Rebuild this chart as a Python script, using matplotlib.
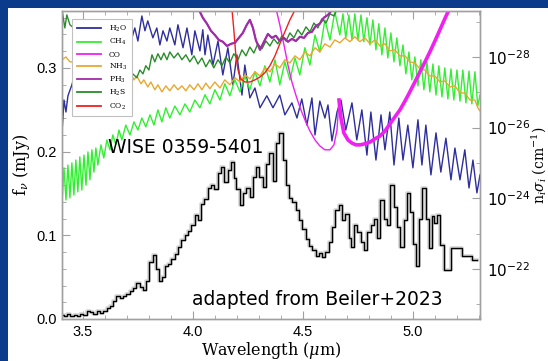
import numpy as np
import matplotlib
matplotlib.use('Agg')
from matplotlib import pyplot as plt
from matplotlib.patches import Rectangle
from matplotlib.lines import Line2D
from matplotlib.ticker import (FixedLocator, MultipleLocator, FormatStrFormatter,
                               LogFormatterMathtext, NullFormatter)

plt.rc('mathtext', fontset='dejavuserif')

# Observed spectrum of WISE 0359-5401 (mJy)
wise_wl = [3.405, 3.42, 3.435, 3.45, 3.465, 3.48, 3.495, 3.51, 3.525, 3.54, 3.555, 3.57, 3.585,
           3.60, 3.615, 3.63, 3.645, 3.66, 3.675, 3.69, 3.705, 3.72, 3.735, 3.75, 3.765, 3.78,
           3.795, 3.81, 3.825, 3.84, 3.85, 3.865, 3.88, 3.895, 3.91, 3.925, 3.94, 3.955, 3.97,
           3.985, 4.00, 4.015, 4.03, 4.045, 4.06, 4.075, 4.09, 4.105, 4.12, 4.135, 4.15, 4.165,
           4.18, 4.19, 4.205, 4.22, 4.235, 4.25, 4.265, 4.28, 4.295, 4.31, 4.325, 4.34, 4.355,
           4.37, 4.385, 4.40, 4.415, 4.43, 4.445, 4.46, 4.475, 4.49, 4.505, 4.52, 4.535, 4.55,
           4.565, 4.58, 4.595, 4.61, 4.625, 4.64, 4.655, 4.67, 4.685, 4.70, 4.715, 4.725, 4.74,
           4.755, 4.77, 4.785, 4.80, 4.815, 4.83, 4.845, 4.86, 4.875, 4.89, 4.905, 4.92, 4.935,
           4.95, 4.965, 4.98, 4.995, 5.01, 5.02, 5.035, 5.05, 5.065, 5.08, 5.09, 5.10, 5.115,
           5.13, 5.155, 5.195, 5.25, 5.29]
wise_flux = [0.005, 0.004, 0.006, 0.004, 0.005, 0.003, 0.006, 0.005, 0.009, 0.008, 0.006, 0.009,
             0.007, 0.010, 0.013, 0.015, 0.022, 0.027, 0.025, 0.028, 0.030, 0.033, 0.037, 0.043,
             0.038, 0.035, 0.045, 0.068, 0.077, 0.060, 0.045, 0.050, 0.063, 0.066, 0.072, 0.078,
             0.086, 0.094, 0.100, 0.105, 0.112, 0.124, 0.118, 0.138, 0.143, 0.157, 0.160, 0.155,
             0.175, 0.182, 0.164, 0.178, 0.188, 0.168, 0.155, 0.136, 0.150, 0.156, 0.146, 0.170,
             0.182, 0.170, 0.158, 0.185, 0.198, 0.165, 0.210, 0.222, 0.190, 0.160, 0.145, 0.140,
             0.130, 0.118, 0.108, 0.095, 0.087, 0.082, 0.075, 0.079, 0.074, 0.080, 0.092, 0.110,
             0.130, 0.136, 0.118, 0.126, 0.097, 0.086, 0.112, 0.104, 0.092, 0.082, 0.104, 0.112,
             0.120, 0.097, 0.142, 0.120, 0.112, 0.160, 0.134, 0.110, 0.086, 0.118, 0.150, 0.128,
             0.090, 0.063, 0.120, 0.157, 0.120, 0.085, 0.123, 0.115, 0.124, 0.088, 0.058, 0.085,
             0.075, 0.070]

# Cross sections, log10 of n_i sigma_i (cm^-1)
h2o_wl = [3.405, 3.414, 3.423, 3.432, 3.450, 3.486, 3.532, 3.577, 3.623, 3.668, 3.691, 3.705,
          3.723, 3.736, 3.750, 3.768, 3.782, 3.795, 3.818, 3.836, 3.850, 3.864, 3.882, 3.895,
          3.918, 3.932, 3.955, 3.973, 3.995, 4.009, 4.032, 4.045, 4.055, 4.068, 4.091, 4.114,
          4.136, 4.159, 4.182, 4.200, 4.223, 4.236, 4.259, 4.282, 4.305, 4.336, 4.364, 4.395,
          4.418, 4.45, 4.473, 4.495, 4.518, 4.541, 4.555, 4.577, 4.6, 4.614, 4.632, 4.655,
          4.673, 4.695, 4.723, 4.745, 4.768, 4.791, 4.809, 4.832, 4.855, 4.873, 4.895, 4.914,
          4.936, 4.955, 4.977, 5.0, 5.023, 5.041, 5.059, 5.082, 5.105, 5.127, 5.15, 5.173,
          5.191, 5.214, 5.236, 5.255, 5.273, 5.291, 5.305]
h2o_log = [-25.85, -26.78, -26.44, -26.90, -27.21, -28.06, -28.62, -28.91, -29.05, -28.99, -28.34,
           -28.91, -28.54, -28.82, -28.45, -29.16, -28.74, -29.02, -28.54, -28.82, -28.34, -28.74,
           -28.45, -28.82, -28.34, -28.91, -28.26, -28.82, -28.06, -28.74, -28.17, -28.77, -28.06,
           -28.62, -27.77, -28.45, -27.49, -28.26, -27.21, -28.06, -26.92, -27.77, -26.84, -27.12,
           -26.56, -26.90, -26.56, -26.92, -26.36, -26.70, -26.27, -26.81, -26.07, -26.84, -25.79,
           -26.75, -26.27, -26.64, -25.62, -26.44, -26.78, -25.93, -26.70, -25.65, -26.50, -25.22,
           -26.44, -25.08, -26.36, -25.37, -26.44, -24.94, -26.27, -25.08, -26.07, -24.86, -26.22,
           -24.94, -26.07, -24.66, -25.85, -24.74, -25.70, -24.52, -25.42, -24.52, -25.37, -24.29,
           -25.08, -24.15, -24.66]

ch4_wl = [3.405, 3.414, 3.423, 3.432, 3.441, 3.450, 3.459, 3.468, 3.477, 3.486, 3.495, 3.505,
          3.514, 3.523, 3.532, 3.541, 3.550, 3.559, 3.568, 3.582, 3.595, 3.609, 3.623, 3.636,
          3.650, 3.664, 3.677, 3.695, 3.714, 3.732, 3.750, 3.768, 3.786, 3.805, 3.823, 3.841,
          3.859, 3.877, 3.895, 3.918, 3.941, 3.964, 3.986, 4.009, 4.032, 4.055, 4.077, 4.100,
          4.123, 4.145, 4.168, 4.191, 4.214, 4.236, 4.259, 4.282, 4.305, 4.327, 4.350, 4.373,
          4.395, 4.418, 4.441, 4.464, 4.486, 4.509, 4.532, 4.555, 4.577, 4.600, 4.623, 4.645,
          4.668, 4.682, 4.695, 4.709, 4.723, 4.736, 4.750, 4.764, 4.777, 4.791, 4.805, 4.818,
          4.832, 4.845, 4.859, 4.873, 4.886, 4.900, 4.914, 4.927, 4.941, 4.955, 4.968, 4.982,
          4.995, 5.009, 5.023, 5.036, 5.050, 5.064, 5.077, 5.091, 5.105, 5.118, 5.132, 5.145,
          5.159, 5.173, 5.186, 5.200, 5.214, 5.227, 5.241, 5.255, 5.268, 5.282, 5.295, 5.305]
ch4_log = [-23.86, -24.86, -23.95, -24.94, -24.01, -25.00, -24.09, -25.08, -24.18, -25.17, -24.23,
           -25.22, -24.37, -25.31, -24.52, -25.37, -24.74, -25.42, -24.94, -25.51, -25.14, -25.65,
           -25.37, -25.79, -25.51, -25.93, -25.65, -26.07, -25.79, -26.16, -25.93, -26.27, -26.02,
           -26.36, -26.07, -26.50, -26.16, -26.56, -26.27, -26.61, -26.36, -26.67, -26.44, -26.78,
           -26.56, -26.93, -26.67, -27.07, -26.78, -27.24, -26.90, -27.35, -27.01, -27.46, -27.07,
           -27.58, -27.18, -27.75, -27.29, -27.92, -27.21, -27.86, -27.35, -27.97, -27.49, -28.26,
           -27.77, -28.62, -28.14, -29.05, -28.48, -29.28, -28.62, -29.22, -28.54, -29.19, -28.48,
           -29.22, -28.48, -29.19, -28.43, -29.11, -28.34, -29.05, -28.20, -28.94, -28.06, -28.82,
           -27.97, -28.68, -27.86, -28.54, -27.75, -28.34, -27.52, -28.14, -27.35, -28.00, -27.18,
           -27.92, -27.07, -27.86, -27.01, -27.80, -26.92, -27.75, -26.87, -27.69, -26.81, -27.66,
           -26.78, -27.63, -26.75, -27.63, -26.70, -27.60, -26.67, -27.58, -26.61, -26.92]

co_wl = [4.377, 4.395, 4.414, 4.432, 4.45, 4.468, 4.486, 4.509, 4.532, 4.555, 4.577, 4.6, 4.623,
         4.641, 4.655, 4.664, 4.673, 4.686, 4.705, 4.723, 4.741, 4.759, 4.782, 4.805, 4.827,
         4.85, 4.873, 4.895, 4.918, 4.941, 4.964, 4.986, 5.009, 5.032, 5.055, 5.077, 5.1, 5.123,
         5.145, 5.168]
co_log = [-29.39, -28.91, -28.34, -27.77, -27.29, -26.92, -26.58, -26.22, -25.90, -25.65, -25.48,
          -25.37, -25.37, -25.51, -25.93, -26.78, -26.27, -25.85, -25.65, -25.56, -25.51, -25.51,
          -25.54, -25.59, -25.68, -25.76, -25.90, -26.10, -26.30, -26.50, -26.75, -27.01, -27.29,
          -27.58, -27.86, -28.14, -28.45, -28.77, -29.08, -29.39]

nh3_wl = [3.405, 3.423, 3.441, 3.532, 3.623, 3.682, 3.700, 3.714, 3.732, 3.745, 3.764, 3.777,
          3.795, 3.809, 3.827, 3.841, 3.859, 3.877, 3.895, 3.914, 3.932, 3.95, 3.968, 3.986,
          4.005, 4.023, 4.041, 4.059, 4.077, 4.1, 4.123, 4.145, 4.168, 4.191, 4.214, 4.236,
          4.259, 4.282, 4.305, 4.327, 4.35, 4.373, 4.395, 4.418, 4.441, 4.464, 4.486, 4.509,
          4.532, 4.555, 4.577, 4.6, 4.623, 4.645, 4.668, 4.691, 4.714, 4.736, 4.759, 4.782,
          4.805, 4.827, 4.85, 4.873, 4.895, 4.918, 4.941, 4.964, 4.986, 5.009, 5.032, 5.055,
          5.077, 5.1, 5.123, 5.145, 5.168, 5.191, 5.214, 5.236, 5.259, 5.282, 5.295, 5.305]
nh3_log = [-27.92, -28.00, -27.86, -27.86, -27.75, -27.63, -27.46, -27.58, -27.35, -27.46, -27.24,
           -27.35, -27.15, -27.29, -27.07, -27.21, -27.01, -27.18, -27.04, -27.21, -27.07, -27.18,
           -27.04, -27.21, -27.07, -27.24, -27.07, -27.26, -27.10, -27.29, -27.12, -27.35, -27.21,
           -27.41, -27.29, -27.49, -27.38, -27.58, -27.46, -27.69, -27.58, -27.80, -27.69, -27.92,
           -27.83, -28.03, -27.92, -28.14, -28.03, -28.26, -28.14, -28.37, -28.28, -28.48, -28.40,
           -28.54, -28.43, -28.57, -28.43, -28.54, -28.37, -28.48, -28.31, -28.37, -28.17, -28.20,
           -28.03, -28.03, -27.86, -27.83, -27.66, -27.63, -27.46, -27.46, -27.29, -27.32, -27.15,
           -27.18, -26.98, -26.98, -26.78, -26.78, -26.56, -26.47]

ph3_wl = [4.023, 4.045, 4.064, 4.082, 4.1, 4.118, 4.136, 4.155, 4.173, 4.191, 4.209, 4.227,
          4.245, 4.259, 4.273, 4.286, 4.305, 4.323, 4.341, 4.359, 4.377, 4.395, 4.414, 4.432,
          4.45, 4.468, 4.486, 4.505, 4.523, 4.541, 4.559, 4.577, 4.595, 4.614, 4.632, 4.65]
ph3_log = [-29.39, -29.11, -28.94, -28.74, -28.62, -28.48, -28.43, -28.31, -28.37, -28.40, -28.54,
           -28.68, -28.91, -29.05, -28.82, -28.48, -28.20, -28.43, -28.65, -28.54, -28.60, -28.45,
           -28.54, -28.43, -28.51, -28.45, -28.57, -28.54, -28.68, -28.71, -28.88, -28.94, -29.11,
           -29.19, -29.33, -29.45]

h2s_wl = [3.405, 3.418, 3.427, 3.441, 3.577, 3.682, 3.7, 3.714, 3.727, 3.745, 3.759, 3.773, 3.786,
          3.8, 3.814, 3.827, 3.841, 3.855, 3.868, 3.882, 3.895, 3.914, 3.932, 3.95, 3.968, 3.986,
          4.005, 4.023, 4.041, 4.059, 4.077, 4.095, 4.114, 4.132, 4.15, 4.168, 4.186, 4.205,
          4.223, 4.241, 4.259, 4.277, 4.295, 4.314, 4.332, 4.35, 4.368, 4.386, 4.405, 4.423,
          4.441, 4.459, 4.477, 4.495, 4.514, 4.532, 4.55, 4.568, 4.586, 4.605, 4.623, 4.641, 4.659]
h2s_log = [-29.33, -28.82, -29.19, -28.91, -28.20, -27.26, -27.46, -27.29, -27.52, -27.41, -27.63,
           -27.52, -27.75, -27.63, -28.06, -27.86, -28.09, -27.92, -28.11, -27.92, -28.14, -27.97,
           -28.11, -27.92, -28.06, -27.86, -28.03, -27.80, -27.97, -27.72, -27.92, -27.69, -27.92,
           -27.75, -28.00, -27.83, -28.09, -27.92, -28.20, -28.03, -28.28, -28.11, -28.37, -28.23,
           -28.45, -28.31, -28.51, -28.37, -28.60, -28.45, -28.68, -28.54, -28.77, -28.62, -28.85,
           -28.71, -28.96, -28.82, -29.08, -28.96, -29.22, -29.16, -29.39]

co2_wl = [4.177, 4.186, 4.195, 4.205, 4.218, 4.236, 4.259, 4.282, 4.305, 4.327, 4.35, 4.373,
          4.395, 4.418, 4.441, 4.464, 4.473]
co2_log = [-29.39, -28.77, -28.06, -27.63, -27.38, -27.29, -27.29, -27.35, -27.43, -27.55, -27.75,
           -28.03, -28.37, -28.71, -29.05, -29.33, -29.45]

molecules = ['H$_2$O', 'CH$_4$', 'CO', 'NH$_3$', 'PH$_3$', 'H$_2$S', 'CO$_2$']
colors = ['#2e2e9c', '#33ee33', '#f020f0', '#e8a830', '#a02ca8', '#2a8c2a', '#ee2020']

# Build figure with blue slide background
fig = plt.figure(figsize=(5.48, 3.61), dpi=100, facecolor='#0b3c8c')
fig.patches.append(Rectangle((8/548, 0), 1, 353/361, transform=fig.transFigure,
                             facecolor='white', edgecolor='none', zorder=-10))
ax = fig.add_axes([62/548, 42/361, 418/548, 308/361])
ax2 = ax.twinx()

# Observed spectrum with uncertainty halo
ax.plot(wise_wl, wise_flux, drawstyle='steps-mid', color='#d4d4d4', linewidth=2.6)
ax.plot(wise_wl, wise_flux, drawstyle='steps-mid', color='black', linewidth=1.0)

# Cross sections on the right axis
series = [(h2o_wl, h2o_log), (ch4_wl, ch4_log), (co_wl, co_log), (nh3_wl, nh3_log),
          (ph3_wl, ph3_log), (h2s_wl, h2s_log), (co2_wl, co2_log)]
for (wl, lg), c in zip(series, colors):
    ax2.plot(wl, 10.0**np.array(lg), color=c, linewidth=1.0)
# band heads of CO drawn denser
co_wl_arr = np.array(co_wl)
thick = co_wl_arr >= 4.664
ax2.plot(co_wl_arr[thick], 10.0**np.array(co_log)[thick], color=colors[2], linewidth=2.6)
ax2.plot(ph3_wl, 10.0**np.array(ph3_log), color=colors[4], linewidth=1.6)

# Limits
ax.set_xlim(3.405, 5.305)
ax.set_ylim(0.0, 0.368)
ax2.set_yscale('log')
ax2.set_ylim(10**-20.58, 10**-29.30)

# Ticks
grey = '#a0a0a0'
ax.xaxis.set_major_locator(MultipleLocator(0.5))
ax.xaxis.set_minor_locator(MultipleLocator(0.1))
ax.yaxis.set_major_locator(MultipleLocator(0.1))
ax.yaxis.set_minor_locator(MultipleLocator(0.02))
ax.yaxis.set_major_formatter(FormatStrFormatter('%.1f'))
ax.xaxis.set_major_formatter(FormatStrFormatter('%.1f'))
ax.tick_params(which='both', direction='in', color=grey, top=True, right=False,
               labelsize=10.5, pad=4)
ax.tick_params(which='major', length=6)
ax.tick_params(which='minor', length=3)
for lab in ax.get_xticklabels() + ax.get_yticklabels():
    lab.set_family('Liberation Sans')

ax2.yaxis.set_major_locator(FixedLocator([1e-28, 1e-26, 1e-24, 1e-22]))
ax2.yaxis.set_minor_locator(FixedLocator([1e-29, 1e-27, 1e-25, 1e-23, 1e-21]))
ax2.yaxis.set_major_formatter(LogFormatterMathtext())
ax2.yaxis.set_minor_formatter(NullFormatter())
ax2.tick_params(which='both', direction='in', color=grey, labelsize=11, pad=5)
ax2.tick_params(which='major', length=6)
ax2.tick_params(which='minor', length=3)

for a in (ax, ax2):
    for s in a.spines.values():
        s.set_color(grey)
        s.set_linewidth(1.0)

# Labels
ax.set_xlabel(r'Wavelength ($\mu$m)', family='DejaVu Serif', fontsize=11.5, labelpad=1)
ax.set_ylabel(r'f$_\nu$ (mJy)', family='DejaVu Serif', fontsize=11.5, labelpad=3)
ax2.set_ylabel(r'n$_i\sigma_i$ (cm$^{-1}$)', family='DejaVu Serif', fontsize=10, labelpad=0)

# Legend
handles = [Line2D([], [], color=c, linewidth=1.3) for c in colors]
leg = ax2.legend(handles, molecules, loc='upper left', bbox_to_anchor=(0.015, 0.985),
                 prop={'family': 'DejaVu Serif', 'size': 5.5}, handlelength=3.2,
                 labelspacing=0.4, borderpad=0.6, handletextpad=1.0, fancybox=False,
                 edgecolor='#c0c0c0', framealpha=1)
leg.get_frame().set_linewidth(0.8)

# Annotations
ax2.text(3.612, 0.205, 'WISE 0359-5401', transform=ax.transData, family='DejaVu Sans',
         fontsize=13.5, color='black', ha='left', va='center', zorder=10)
ax2.text(3.998, 0.023, 'adapted from Beiler+2023', transform=ax.transData, family='DejaVu Sans',
         fontsize=13.5, color='black', ha='left', va='center', zorder=10)

fig.savefig('out.png', dpi=100, facecolor=fig.get_facecolor())
